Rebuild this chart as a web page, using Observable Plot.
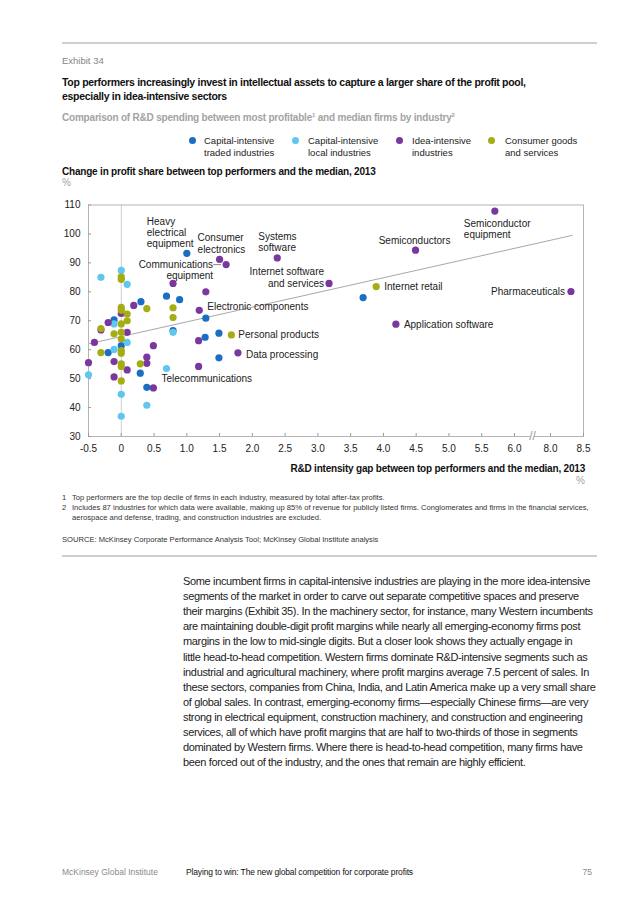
<!DOCTYPE html>
<html><head><meta charset="utf-8">
<script src="https://cdn.jsdelivr.net/npm/d3@7"></script>
<script src="https://cdn.jsdelivr.net/npm/@observablehq/plot@0.6"></script>
<style>
body{margin:0;background:#fff;}
#page{position:relative;width:636px;height:900px;font-family:"Liberation Sans",Arial,sans-serif;color:#222;overflow:hidden;background:#fff}
.a{position:absolute;white-space:nowrap}
.rule{position:absolute;left:62px;width:535px;height:2px;background:#cfcfcf}
.lg{position:absolute;font-size:9.5px;line-height:11.6px;color:#222;white-space:nowrap}
.lgdot{position:absolute;width:7px;height:7px;border-radius:50%}
.fn{position:absolute;font-size:7.6px;line-height:10px;color:#333;white-space:nowrap}
.body{position:absolute;left:183px;font-size:11px;line-height:15px;color:#222;white-space:nowrap;letter-spacing:-0.35px;font-family:"Liberation Sans",Arial,sans-serif}
sup{font-size:60%;line-height:0;vertical-align:super}
</style></head><body><div id="page">
<div class="rule" style="top:42px"></div>
<div class="a" style="left:62px;top:55px;font-size:9.5px;line-height:12px;color:#858585">Exhibit 34</div>
<div class="a" style="left:62px;top:76px;font-size:10.5px;line-height:13.5px;font-weight:bold;color:#111;letter-spacing:-0.3px">Top performers increasingly invest in intellectual assets to capture a larger share of the profit pool,<br>especially in idea-intensive sectors</div>
<div class="a" style="left:62px;top:112px;font-size:10px;line-height:12px;font-weight:bold;color:#a3a3a3;letter-spacing:-0.2px">Comparison of R&amp;D spending between most profitable<sup>1</sup> and median firms by industry<sup>2</sup></div>
<div id="legend"></div>
<div class="a" style="left:62px;top:166px;font-size:10px;line-height:12px;font-weight:bold;color:#111;letter-spacing:-0.2px">Change in profit share between top performers and the median, 2013</div>
<div class="a" style="left:62px;top:177px;font-size:10px;line-height:12px;color:#a3a3a3">%</div>
<div id="chart" style="position:absolute;left:0;top:195px"></div>
<div class="a" style="right:51px;top:463px;font-size:10px;line-height:12px;font-weight:bold;color:#111;letter-spacing:-0.2px">R&amp;D intensity gap between top performers and the median, 2013</div>
<div class="a" style="right:51px;top:475px;font-size:10px;line-height:12px;color:#a3a3a3">%</div>
<div class="fn" style="left:62px;top:492.5px">1</div>
<div class="fn" style="left:72px;top:492.5px">Top performers are the top decile of firms in each industry, measured by total after-tax profits.</div>
<div class="fn" style="left:62px;top:503px">2</div>
<div class="fn" style="left:72px;top:503px">Includes 87 industries for which data were available, making up 85% of revenue for publicly listed firms. Conglomerates and firms in the financial services,<br>aerospace and defense, trading, and construction industries are excluded.</div>
<div class="fn" style="left:62px;top:535px">SOURCE: McKinsey Corporate Performance Analysis Tool; McKinsey Global Institute analysis</div>
<div class="rule" style="top:555px"></div>
<div id="bodytext"></div>
<div class="a" style="left:62px;top:867px;font-size:8.5px;line-height:10px;color:#8a8a8a">McKinsey Global Institute</div>
<div class="a" style="left:186px;top:867px;font-size:8.5px;line-height:10px;color:#111;letter-spacing:-0.15px">Playing to win: The new global competition for corporate profits</div>
<div class="a" style="right:44px;top:867px;font-size:8.5px;line-height:10px;color:#8a8a8a">75</div>
</div>
<script>
// ---- data ----
const categories = ["Capital-intensive\ntraded industries", "Capital-intensive\nlocal industries", "Idea-intensive\nindustries", "Consumer goods\nand services"];
const categoryColors = ["#1a6ec3", "#5fc6f0", "#7a379d", "#a5ac14"];

// [R&D intensity gap, change in profit share]
const tradedPoints = [
  [1.0, 93.3], [0.69, 78.5], [0.89, 77.3], [0.30, 76.6], [1.29, 70.9], [-0.11, 70.3],
  [0.79, 66.6], [1.49, 65.7], [1.28, 64.3], [0, 61.4], [-0.2, 59.0], [1.49, 57.2],
  [0.29, 51.9], [0.39, 47.0], [3.69, 78.0]
];
const localPoints = [
  [-0.31, 85.0], [0, 87.4], [0.09, 82.6], [-0.11, 68.9], [0.79, 66.0], [0.09, 62.5],
  [-0.11, 60.1], [0.69, 53.5], [-0.5, 51.3], [0, 44.6], [0.39, 40.8], [0, 37.0]
];
const ideaPoints = [
  [1.5, 91.2], [1.6, 89.4], [2.38, 91.7], [3.17, 82.9], [4.49, 94.4], [5.70, 107.9],
  [8.31, 80.1], [4.19, 68.8], [0.79, 82.9], [1.29, 80.0], [0.19, 75.3], [0, 72.5],
  [1.19, 73.6], [-0.2, 69.4], [-0.31, 66.8], [0.09, 66.0], [1.18, 63.1], [-0.41, 62.5],
  [0.49, 61.4], [1.78, 58.9], [0.39, 57.4], [0.39, 55.3], [1.18, 54.2], [-0.5, 55.5],
  [-0.11, 55.9], [0.09, 53.0], [-0.11, 50.6], [0.49, 46.8]
];
const consumerPoints = [
  [0, 85.2], [0, 84.3], [0, 74.6], [0, 73.6], [0.39, 74.2], [0.79, 74.5], [0.09, 72.3],
  [0.79, 71.1], [0.09, 70.0], [-0.31, 67.3], [0, 68.9], [-0.11, 65.5], [0, 66.0], [0, 63.7],
  [1.68, 65.1], [3.89, 81.8], [-0.31, 59.0], [0, 59.7], [0, 58.8], [0.29, 55.1],
  [0, 55.1], [0, 54.2], [0, 49.2]
];
const trendLine = [[-0.5, 62.0], [8.33, 99.5]];

const labelNames = ["Heavy\nelectrical\nequipment", "Consumer\nelectronics", "Communications\nequipment",
  "Systems\nsoftware", "Internet software\nand services", "Semiconductors", "Semiconductor\nequipment",
  "Internet retail", "Pharmaceuticals", "Application software", "Electronic components",
  "Personal products", "Data processing", "Telecommunications"];
const labelPoints = [[1.0, 93.3], [1.5, 91.2], [1.6, 89.4], [2.38, 91.7], [3.17, 82.9], [4.49, 94.4],
  [5.70, 107.9], [3.89, 81.8], [8.31, 80.1], [4.19, 68.8], [1.19, 73.6], [1.68, 65.1], [1.78, 58.9], [0.69, 53.5]];

const xTicks = [-0.5, 0, 0.5, 1.0, 1.5, 2.0, 2.5, 3.0, 3.5, 4.0, 4.5, 5.0, 5.5, 6.0, 8.0, 8.5];
const yTicks = [30, 40, 50, 60, 70, 80, 90, 100, 110];
const xBreak = 7;

// ---- label layout (pixel offsets from the point) ----
const labelLayout = {
  "Heavy\nelectrical\nequipment": {anchor: "start", dx: -40, dy: -21},
  "Consumer\nelectronics": {anchor: "start", dx: -22, dy: -16},
  "Communications\nequipment": {anchor: "end", dx: -13, dy: 5},
  "Systems\nsoftware": {anchor: "start", dx: -19, dy: -16},
  "Internet software\nand services": {anchor: "end", dx: -5, dy: -6},
  "Semiconductors": {anchor: "middle", dx: -1, dy: -10},
  "Semiconductor\nequipment": {anchor: "start", dx: -31, dy: 18},
  "Internet retail": {anchor: "start", dx: 8, dy: 0},
  "Pharmaceuticals": {anchor: "end", dx: -6, dy: 0},
  "Application software": {anchor: "start", dx: 8, dy: 0},
  "Electronic components": {anchor: "start", dx: 8, dy: -4},
  "Personal products": {anchor: "start", dx: 7, dy: -1},
  "Data processing": {anchor: "start", dx: 8, dy: 1},
  "Telecommunications": {anchor: "start", dx: -5, dy: 10}
};

// ---- legend ----
const legendPos = [[192, 204], [295, 308], [399, 412], [491, 505]];
const legend = document.getElementById("legend");
categories.forEach((c, i) => {
  const d = document.createElement("div");
  d.className = "lgdot";
  d.style.left = (legendPos[i][0] - 3.5) + "px"; d.style.top = (140.5 - 3.5) + "px";
  d.style.background = categoryColors[i];
  legend.appendChild(d);
  const t = document.createElement("div");
  t.className = "lg";
  t.style.left = legendPos[i][1] + "px"; t.style.top = "135px";
  t.innerHTML = c.replace("\n", "<br>");
  legend.appendChild(t);
});

// ---- chart ----
const groups = [tradedPoints, localPoints, ideaPoints, consumerPoints];
const points = groups.flatMap((g, i) => g.map(([x, y]) => ({x, y, cat: i})));
const labels = labelNames.map((name, i) => ({name, x: labelPoints[i][0], y: labelPoints[i][1]}));
const W = 636, H = 265, mL = 88, mR = 53, mT = 9.5, mB = 24;
const innerW = W - mL - mR, innerH = H - mT - mB;
const fmt = d => d === 0 ? "0" : d.toFixed(1);

const textMarks = ["start", "middle", "end"].flatMap(anchor =>
  labels.filter(l => labelLayout[l.name].anchor === anchor).map(l =>
    Plot.text([l], {x: "x", y: "y", text: "name", textAnchor: anchor, lineAnchor: "middle",
      dx: labelLayout[l.name].dx, dy: labelLayout[l.name].dy, lineHeight: 1.15,
      fill: "#222", fontSize: 10})
  )
);
const comm = labels.find(l => l.name.startsWith("Communications"));

const chart = Plot.plot({
  width: W, height: H,
  marginLeft: mL, marginRight: mR, marginTop: mT, marginBottom: mB,
  style: {fontFamily: "'Liberation Sans', Arial, sans-serif", fontSize: "10px", color: "#222", background: "transparent", overflow: "visible"},
  x: {type: "linear", domain: [-0.5, 6, 8, 8.5], range: [mL, 514, 550, W - mR], label: null},
  y: {domain: [30, 110], label: null},
  marks: [
    Plot.ruleX([0], {stroke: "#cfcfcf", strokeWidth: 1}),
    Plot.line(trendLine, {x: d => d[0], y: d => d[1], stroke: "#a8a8a8", strokeWidth: 1}),
    Plot.frame({stroke: "#b5b5b5", strokeWidth: 1}),
    Plot.ruleX(xTicks, {insetTop: innerH - 3, stroke: "#999"}),
    Plot.ruleY(yTicks, {insetRight: innerW - 3, stroke: "#999"}),
    Plot.ruleY([30], {x1: xBreak - 0.12, x2: xBreak + 0.12, stroke: "#fff", strokeWidth: 3}),
    Plot.text([xBreak], {x: d => d, y: 30, text: () => "//", fill: "#999", fontSize: 12, dy: 0}),
    Plot.ruleY([comm], {y: "y", x1: d => d.x - 0.19, x2: d => d.x - 0.07, stroke: "#888", dy: 0}),
    Plot.dot(points, {x: "x", y: "y", r: 3.6, fill: d => categoryColors[d.cat], stroke: "none"}),
    ...textMarks,
    Plot.axisX(xTicks, {tickSize: 0, tickPadding: 8, tickFormat: fmt, fontSize: 10, fill: "#222", label: null}),
    Plot.axisY(yTicks, {tickSize: 0, tickPadding: 8, fontSize: 10, fill: "#222", label: null})
  ]
});
document.getElementById("chart").appendChild(chart);

// ---- body text ----
const bodyLines = [
  "Some incumbent firms in capital-intensive industries are playing in the more idea-intensive",
  "segments of the market in order to carve out separate competitive spaces and preserve",
  "their margins (Exhibit 35). In the machinery sector, for instance, many Western incumbents",
  "are maintaining double-digit profit margins while nearly all emerging-economy firms post",
  "margins in the low to mid-single digits. But a closer look shows they actually engage in",
  "little head-to-head competition. Western firms dominate R&D-intensive segments such as",
  "industrial and agricultural machinery, where profit margins average 7.5 percent of sales. In",
  "these sectors, companies from China, India, and Latin America make up a very small share",
  "of global sales. In contrast, emerging-economy firms\u2014especially Chinese firms\u2014are very",
  "strong in electrical equipment, construction machinery, and construction and engineering",
  "services, all of which have profit margins that are half to two-thirds of those in segments",
  "dominated by Western firms. Where there is head-to-head competition, many firms have",
  "been forced out of the industry, and the ones that remain are highly efficient."
];
const bt = document.getElementById("bodytext");
bodyLines.forEach((s, i) => {
  const d = document.createElement("div");
  d.className = "body";
  d.style.top = (574 + i * 15.1) + "px";
  d.textContent = s;
  bt.appendChild(d);
});
</script>
</body></html>
